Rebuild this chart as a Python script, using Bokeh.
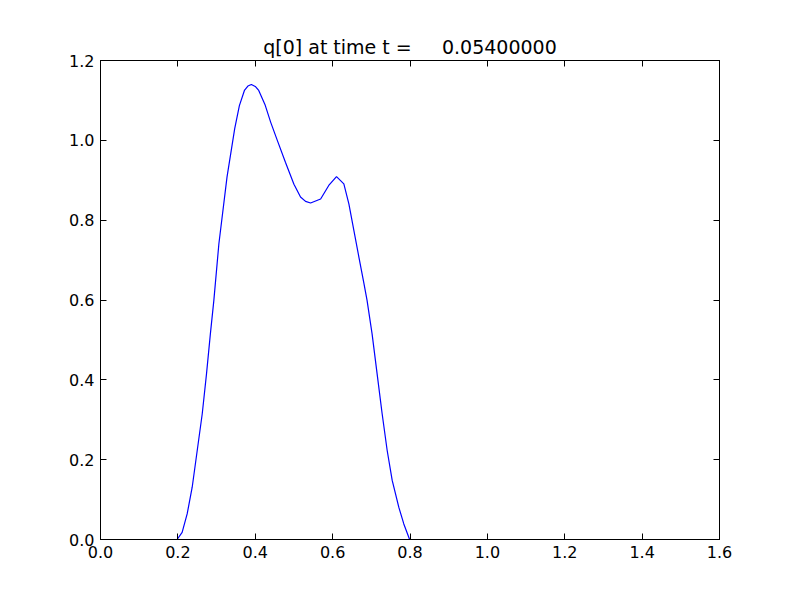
from bokeh.plotting import figure
from bokeh.models import LinearAxis, FixedTicker, Range1d, CustomJSTickFormatter
from bokeh.embed import file_html
from bokeh.resources import INLINE

x_vals = [0.198, 0.211, 0.224, 0.237, 0.250, 0.263, 0.274, 0.284, 0.293, 0.306,
          0.327, 0.347, 0.359, 0.372, 0.381, 0.390, 0.400, 0.409, 0.425, 0.440,
          0.457, 0.478, 0.500, 0.517, 0.530, 0.543, 0.569, 0.590, 0.610, 0.629,
          0.642, 0.655, 0.668, 0.681, 0.689, 0.702, 0.715, 0.728, 0.741, 0.754,
          0.771, 0.784, 0.799]
q_vals = [0.0, 0.018, 0.064, 0.131, 0.223, 0.315, 0.415, 0.515, 0.599, 0.741,
          0.908, 1.030, 1.087, 1.125, 1.136, 1.140, 1.135, 1.125, 1.090, 1.045,
          1.000, 0.945, 0.890, 0.858, 0.847, 0.843, 0.853, 0.887, 0.909, 0.891,
          0.841, 0.774, 0.707, 0.641, 0.599, 0.515, 0.415, 0.315, 0.223, 0.148,
          0.081, 0.039, 0.0]
x_ticks = [0.0, 0.2, 0.4, 0.6, 0.8, 1.0, 1.2, 1.4, 1.6]
y_ticks = [0.0, 0.2, 0.4, 0.6, 0.8, 1.0, 1.2]

title_text = "q[0] at time t =\u00a0\u00a0\u00a0\u00a0 0.05400000"

p = figure(width=792, height=592, output_backend="svg", toolbar_location=None,
           x_range=Range1d(0, 1.6), y_range=Range1d(0, 1.2),
           min_border_left=100, min_border_top=60, min_border_right=73, min_border_bottom=53,
           frame_width=619, frame_height=479, title=title_text)

p.line(x_vals, q_vals, line_color="#0000ff", line_width=1.2)

p.grid.visible = False
p.outline_line_color = "black"
p.outline_line_width = 1
p.background_fill_color = "white"
p.border_fill_color = "white"

p.title.text_font = "DejaVu Sans"
p.title.text_font_size = "19px"
p.title.text_font_style = "normal"
p.title.text_color = "black"
p.title.align = "center"
p.title.standoff = 6

fmt = CustomJSTickFormatter(code="return tick.toFixed(1);")
blank = CustomJSTickFormatter(code="return '';")

def style(ax, ticks, labels=True):
    ax.ticker = FixedTicker(ticks=ticks)
    ax.major_tick_in = 6
    ax.major_tick_out = 0
    ax.minor_tick_in = 0
    ax.minor_tick_out = 0
    ax.axis_line_color = "black"
    ax.major_tick_line_color = "black"
    ax.major_label_text_font = "DejaVu Sans"
    ax.major_label_text_color = "black"
    ax.major_label_text_font_size = "16px"
    if labels:
        ax.formatter = fmt
        ax.major_label_standoff = 6
    else:
        ax.formatter = blank
        ax.major_label_standoff = 0

style(p.xaxis[0], x_ticks)
style(p.yaxis[0], y_ticks)

top = LinearAxis()
style(top, x_ticks, labels=False)
p.add_layout(top, "above")
right = LinearAxis()
style(right, y_ticks, labels=False)
p.add_layout(right, "right")

open("out.html", "w").write(file_html(p, INLINE))
